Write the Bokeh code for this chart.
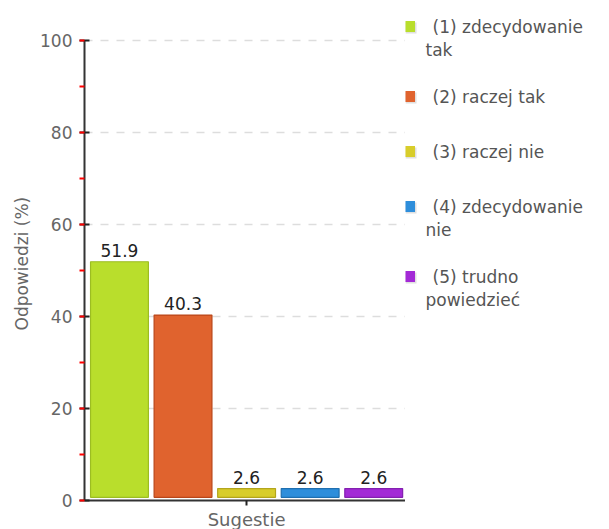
import textwrap
from bokeh.plotting import figure
from bokeh.models import Range1d, SingleIntervalTicker, FixedTicker, ColumnDataSource, Title
from bokeh.layouts import row
from bokeh.embed import file_html
from bokeh.resources import INLINE
from bokeh.core.properties import value

# ---- data ----
categories = ["(1) zdecydowanie tak", "(2) raczej tak", "(3) raczej nie",
              "(4) zdecydowanie nie", "(5) trudno powiedzieć"]
values = [51.9, 40.3, 2.6, 2.6, 2.6]
fill_colors = ["#b9de2c", "#e0632e", "#d8cd2b", "#2e8edb", "#a32ad6"]
line_colors = ["#9cbd22", "#b94619", "#b3a51c", "#1f6fb0", "#8320b0"]
x_title = "Sugestie"
y_title = "Odpowiedzi (%)"
y_max = 100
y_ticks_interval = 20

FONT = "DejaVu Sans"
# the frame reaches to the top of the page; the axis itself spans 0..y_max
PLOT_H, HEADROOM = 460, 40
FRAME_H = PLOT_H + HEADROOM

xs = list(range(len(categories)))
src = ColumnDataSource(dict(
    x=xs, top=values, fill=fill_colors, line=line_colors,
    label=[f"{v:.1f}" for v in values],
))

p = figure(frame_width=321, frame_height=FRAME_H, output_backend="svg",
           toolbar_location=None, x_range=Range1d(-0.55, len(xs) - 0.5),
           y_range=Range1d(0, y_max * FRAME_H / PLOT_H), min_border_left=84,
           min_border_top=0, min_border_right=0, min_border_bottom=20, title=None)
p.outline_line_color = None
p.background_fill_color = "white"
p.border_fill_color = "white"

p.vbar(x="x", top="top", bottom=0.7, width=0.91, source=src,
       fill_color="fill", line_color="line", line_width=1.2)
p.text(x="x", y="top", text="label", source=src, text_align="center",
       text_baseline="bottom", y_offset=-5, text_font=value(FONT),
       text_font_size="17px", text_color="#222222")

# y axis
ya = p.yaxis[0]
ya.bounds = (0, y_max)
ya.ticker = SingleIntervalTicker(interval=y_ticks_interval, num_minor_ticks=2)
ya.major_label_text_font = FONT
ya.major_label_text_font_size = "17px"
ya.major_label_text_color = "#666666"
ya.major_label_standoff = 7
ya.axis_line_color = "#333333"
ya.axis_line_width = 2
ya.major_tick_line_color = "#222222"
ya.major_tick_line_width = 2
ya.major_tick_in = 5
ya.major_tick_out = 5
ya.minor_tick_line_color = "#ff0000"
ya.minor_tick_line_width = 2
ya.minor_tick_in = 0
ya.minor_tick_out = 5

# y axis title, centred on the 0..y_max span rather than on the taller frame
p.add_layout(Title(text=y_title, align="left", offset=170, standoff=12,
                   text_font=FONT, text_font_size="17px", text_font_style="normal",
                   text_color="#666666"), "left")

# x axis
xa = p.xaxis[0]
mid = (len(xs) - 1) / 2
xa.ticker = FixedTicker(ticks=[mid])
xa.major_label_overrides = {mid: x_title}
xa.major_label_text_font = FONT
xa.major_label_text_font_size = "18px"
xa.major_label_text_color = "#666666"
xa.major_label_standoff = 3
xa.axis_line_color = "#333333"
xa.axis_line_width = 2
xa.major_tick_line_color = "#222222"
xa.major_tick_line_width = 2
xa.major_tick_in = 0
xa.major_tick_out = 5
xa.minor_tick_line_color = None

p.xgrid.grid_line_color = None
p.ygrid.grid_line_color = "#dddddd"
p.ygrid.grid_line_dash = "8 8"
p.ygrid.grid_line_width = 1.5
p.ygrid.ticker = SingleIntervalTicker(interval=y_ticks_interval)

# ---- legend (separate panel; its frame is aligned with the main frame) ----
LH = 23
leg_w = 204
leg = figure(width=leg_w, frame_height=FRAME_H, output_backend="svg",
             toolbar_location=None, x_axis_type=None, y_axis_type=None,
             min_border=0, title=None, x_range=Range1d(0, leg_w),
             y_range=Range1d(FRAME_H, 0))
leg.outline_line_color = None
leg.grid.visible = False

sq_x, sq_y, line_x, line_y, line_t = [], [], [], [], []
y = 26
for i, cat in enumerate(categories):
    lines = textwrap.wrap(cat, 16)
    sq_x.append(4)
    sq_y.append(y)
    for j, ln in enumerate(lines):
        line_x.append(27 if j == 0 else 20)
        line_y.append(y + j * LH)
        line_t.append(ln)
    y += 55 + (len(lines) - 1) * 15

leg.scatter(x=[v + 1.5 for v in sq_x], y=[v + 1.5 for v in sq_y], marker="square",
            size=11, fill_color="#cccccc", line_color=None, fill_alpha=0.6)
leg.scatter(x=sq_x, y=sq_y, marker="square", size=11, fill_color=fill_colors,
            line_color=None)
leg.text(x=line_x, y=line_y, text=line_t, text_baseline="middle",
         text_font=value(FONT), text_font_size="17px", text_color="#555555")

layout = row(p, leg)
open("out.html", "w").write(file_html(layout, INLINE))
